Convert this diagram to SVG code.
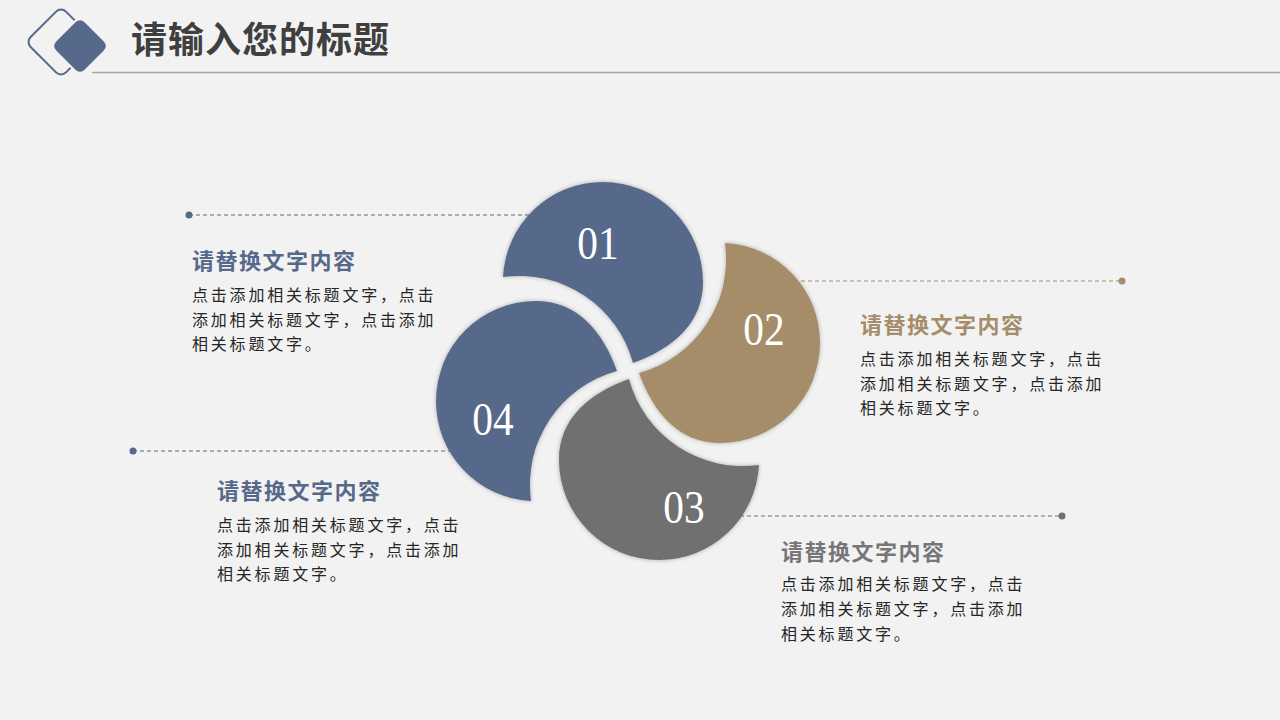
<svg xmlns="http://www.w3.org/2000/svg" width="1280" height="720" viewBox="0 0 1280 720">
  <defs>
    <style>
      .title { font-family: "Noto Sans CJK SC", "Noto Sans", sans-serif; font-weight: bold; font-size: 36px; fill: #3f3f3f; letter-spacing: 1px; }
      .head { font-family: "Noto Sans CJK SC", "Noto Sans", sans-serif; font-weight: bold; font-size: 22px; letter-spacing: 1.5px; }
      .body { font-family: "Noto Sans CJK SC", "Noto Sans", sans-serif; font-size: 16px; fill: #262626; letter-spacing: 2.8px; }
      .num { font-family: "Liberation Serif", "DejaVu Serif", serif; font-size: 46px; fill: #ffffff; text-anchor: middle; }
      .dash { fill: none; stroke-width: 1; stroke-dasharray: 4 3; }
      .blue { fill: #56698a; }
      .tan { fill: #a68d6a; }
      .gray { fill: #707070; }
    </style>
    <filter id="glow" x="-20%" y="-20%" width="140%" height="140%">
      <feDropShadow dx="0" dy="0" stdDeviation="2" flood-color="#000000" flood-opacity="0.3"/>
    </filter>
    <path id="petal" d="M 503,277 A 100 100 0 0 1 603,182 A 100 100 0 0 1 703,282 C 703,324 672,349 633,363 A 118 118 0 0 0 503,277 Z"/>
  </defs>

  <rect x="0" y="0" width="1280" height="720" fill="#f2f2f2"/>

  <!-- header -->
  <g id="header">
    <rect x="36" y="17" width="50" height="50" rx="7" fill="none" stroke="#56698a" stroke-width="2" transform="rotate(45 61 42)"/>
    <rect x="59" y="25" width="42" height="42" rx="7" fill="#56698a" stroke="#f2f2f2" stroke-width="2" transform="rotate(45 80 46)"/>
    <text class="title" x="131" y="53">请输入您的标题</text>
    <line x1="92" y1="72.5" x2="1280" y2="72.5" stroke="#a6a6a6" stroke-width="1.5"/>
  </g>

  <!-- connectors -->
  <g id="connectors">
    <line class="dash" x1="189" y1="215" x2="540" y2="215" stroke="#56698a"/>
    <circle cx="189" cy="215" r="3.5" class="blue"/>
    <line class="dash" x1="780" y1="281" x2="1122" y2="281" stroke="#a68d6a"/>
    <circle cx="1122" cy="281" r="3.5" class="tan"/>
    <line class="dash" x1="740" y1="516" x2="1062" y2="516" stroke="#707070"/>
    <circle cx="1062" cy="516" r="3.5" class="gray"/>
    <line class="dash" x1="133" y1="451" x2="470" y2="451" stroke="#56698a"/>
    <circle cx="133" cy="451" r="3.5" class="blue"/>
  </g>

  <!-- petals -->
  <g id="node-01">
    <use href="#petal" class="blue" filter="url(#glow)"/>
    <text class="num" transform="translate(598 259) scale(0.9 1)">01</text>
  </g>
  <g id="node-02">
    <use href="#petal" class="tan" filter="url(#glow)" transform="rotate(90 631 371)"/>
    <text class="num" transform="translate(764 345) scale(0.9 1)">02</text>
  </g>
  <g id="node-03">
    <use href="#petal" class="gray" filter="url(#glow)" transform="rotate(180 631 371)"/>
    <text class="num" transform="translate(684 523) scale(0.9 1)">03</text>
  </g>
  <g id="node-04">
    <use href="#petal" class="blue" filter="url(#glow)" transform="translate(-6 2) rotate(-90 631 371)"/>
    <text class="num" transform="translate(493 435) scale(0.9 1)">04</text>
  </g>

  <!-- text blocks -->
  <g id="text-01">
    <text class="head" x="192" y="269" fill="#56698a">请替换文字内容</text>
    <text class="body" x="192" y="301">点击添加相关标题文字，点击</text>
    <text class="body" x="192" y="326">添加相关标题文字，点击添加</text>
    <text class="body" x="192" y="350">相关标题文字。</text>
  </g>
  <g id="text-02">
    <text class="head" x="860" y="333" fill="#a68d6a">请替换文字内容</text>
    <text class="body" x="860" y="365">点击添加相关标题文字，点击</text>
    <text class="body" x="860" y="390">添加相关标题文字，点击添加</text>
    <text class="body" x="860" y="414">相关标题文字。</text>
  </g>
  <g id="text-03">
    <text class="head" x="781" y="560" fill="#767676">请替换文字内容</text>
    <text class="body" x="781" y="590">点击添加相关标题文字，点击</text>
    <text class="body" x="781" y="615">添加相关标题文字，点击添加</text>
    <text class="body" x="781" y="640">相关标题文字。</text>
  </g>
  <g id="text-04">
    <text class="head" x="217" y="499" fill="#56698a">请替换文字内容</text>
    <text class="body" x="217" y="531">点击添加相关标题文字，点击</text>
    <text class="body" x="217" y="556">添加相关标题文字，点击添加</text>
    <text class="body" x="217" y="580">相关标题文字。</text>
  </g>
</svg>
